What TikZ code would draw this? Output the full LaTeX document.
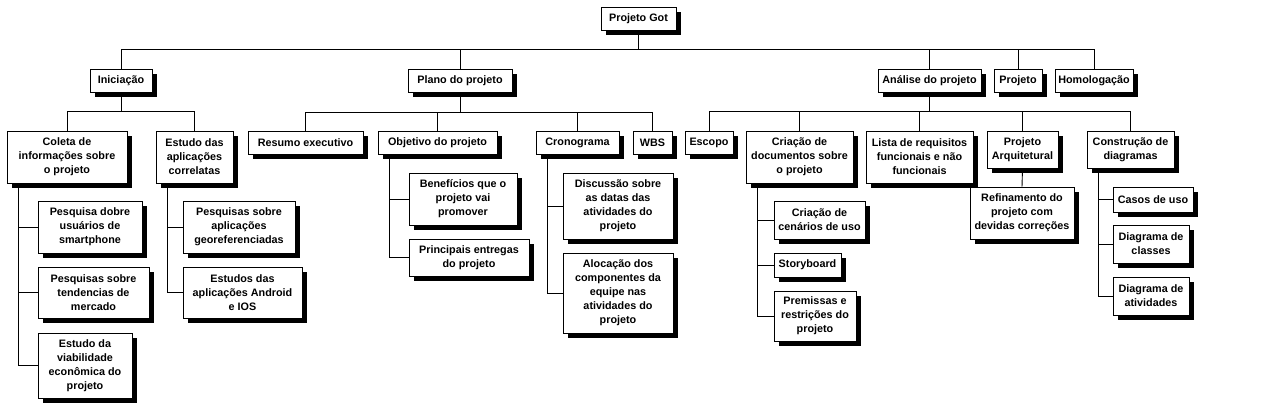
\documentclass[tikz,border=0pt]{standalone}
\usepackage{fontspec}
\setmainfont{Liberation Sans}
\usetikzlibrary{shadows,backgrounds}
\tikzset{
  wb/.style={draw=black, fill=white, line width=0.9pt, inner sep=0pt, align=center,
    font=\bfseries\fontsize{10.8}{14}\selectfont,
    drop shadow={shadow xshift=5pt, shadow yshift=-5pt, opacity=1, fill=black}},
  ln/.style={draw=black, line width=0.9pt}
}
\newcommand\wbsbox[6]{\node[wb, minimum width={#4-#2}, minimum height={#5-#3}] (#1) at ({(#2+#4)/2},{(#3+#5)/2}) {#6};}
\begin{document}
\begin{tikzpicture}[x=1pt,y=-1pt]
\useasboundingbox (0,0) rectangle (1263,409);
\coordinate (bar1) at (0,49);
\coordinate (bar2) at (0,111);
\coordinate (bar3) at (0,112);
% boxes
\wbsbox{root}{601}{7}{676}{30}{Projeto Got}
\wbsbox{ini}{90}{69}{152}{92}{Iniciação}
\wbsbox{plano}{408}{69}{512}{92}{Plano do projeto}
\wbsbox{anal}{878}{69}{981}{92}{Análise do projeto}
\wbsbox{proj}{994}{69}{1042}{92}{Projeto}
\wbsbox{hom}{1055}{69}{1133}{92}{Homologação}
\wbsbox{coleta}{7}{131}{127}{183}{Coleta de\\informações sobre\\o projeto}
\wbsbox{estudo}{156}{131}{233}{183}{Estudo das\\aplicações\\correlatas}
\wbsbox{resumo}{248}{131}{363}{154}{Resumo executivo}
\wbsbox{objetivo}{378}{131}{497}{154}{Objetivo do projeto}
\wbsbox{crono}{536}{131}{619}{154}{Cronograma}
\wbsbox{wbs}{633}{131}{672}{154}{WBS}
\wbsbox{escopo}{685}{131}{733}{154}{Escopo}
\wbsbox{criacao}{746}{131}{853}{183}{Criação de\\documentos sobre\\o projeto}
\wbsbox{lista}{866}{131}{973}{183}{Lista de requisitos\\funcionais e não\\funcionais}
\wbsbox{arq}{987}{131}{1058}{168}{Projeto\\Arquitetural}
\wbsbox{constr}{1087}{131}{1174}{168}{Construção de\\diagramas}
\wbsbox{pd}{38}{201}{142}{253}{Pesquisa dobre\\usuários de\\smartphone}
\wbsbox{pt}{38}{267}{149}{318}{Pesquisas sobre\\tendencias de\\mercado}
\wbsbox{ev}{38}{333}{132}{398}{Estudo da\\viabilidade\\econômica do\\projeto}
\wbsbox{pa}{183}{201}{295}{253}{Pesquisas sobre\\aplicações\\georeferenciadas}
\wbsbox{ea}{183}{267}{302}{318}{Estudos das\\aplicações Android\\e IOS}
\wbsbox{ben}{409}{173}{517}{225}{Benefícios que o\\projeto vai\\promover}
\wbsbox{pe}{409}{239}{529}{276}{Principais entregas\\do projeto}
\wbsbox{disc}{563}{173}{673}{239}{Discussão sobre\\as datas das\\atividades do\\projeto}
\wbsbox{aloc}{563}{253}{673}{333}{Alocação dos\\componentes da\\equipe nas\\atividades do\\projeto}
\wbsbox{cen}{774}{201}{865}{239}{Criação de\\cenários de uso}
\wbsbox{story}{774}{253}{841}{277}{Storyboard}
\wbsbox{prem}{774}{291}{856}{341}{Premissas e\\restrições do\\projeto}
\wbsbox{ref}{970}{187}{1074}{239}{Refinamento do\\projeto com\\devidas correções}
\wbsbox{casos}{1113}{187}{1193}{212}{Casos de uso}
\wbsbox{dclass}{1113}{225}{1189}{263}{Diagrama de\\classes}
\wbsbox{dativ}{1113}{277}{1189}{315}{Diagrama de\\atividades}
\begin{scope}[on background layer]
\fill[white] (0,0) rectangle (1263,409);
\draw[ln] (root.south) -- (root.south |- bar1);
\draw[ln] (ini.north) |- (hom.north |- bar1) -- (hom.north);
\foreach \n in {plano,anal,proj} \draw[ln] (\n.north) -- (\n.north |- bar1);
\draw[ln] (ini.south) -- (ini.south |- bar2);
\draw[ln] (coleta.north) |- (estudo.north |- bar2) -- (estudo.north);
\draw[ln] (plano.south) -- (plano.south |- bar3);
\draw[ln] (resumo.north) |- (wbs.north |- bar3) -- (wbs.north);
\foreach \n in {objetivo,crono} \draw[ln] (\n.north) -- (\n.north |- bar3);
\draw[ln] (anal.south) -- (anal.south |- bar2);
\draw[ln] (escopo.north) |- (constr.north |- bar2) -- (constr.north);
\foreach \n in {criacao,lista,arq} \draw[ln] (\n.north) -- (\n.north |- bar2);
\draw[ln] (arq.south) -- (ref.north);
\foreach \p/\c in {coleta/pd,coleta/pt,coleta/ev,estudo/pa,estudo/ea,objetivo/ben,objetivo/pe,crono/disc,crono/aloc,criacao/cen,criacao/story,criacao/prem,constr/casos,constr/dclass,constr/dativ}
  \draw[ln] ([xshift=12pt]\p.south west) |- (\c.west);
\end{scope}
\end{tikzpicture}
\end{document}
